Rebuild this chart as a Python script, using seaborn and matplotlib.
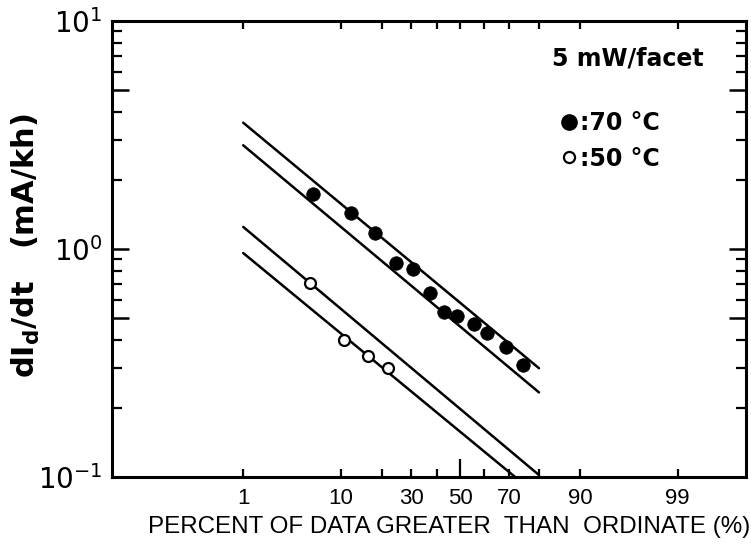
import numpy as np
import pandas as pd
import matplotlib
matplotlib.use("Agg")
import matplotlib.pyplot as plt
import seaborn as sns
from statistics import NormalDist
from matplotlib.lines import Line2D
from matplotlib.ticker import FixedLocator, FixedFormatter, NullFormatter

# ---------------- data ----------------
pct_70C = [5.7, 12.1, 18.1, 24.5, 30.5, 37.3, 43.2, 48.4, 55.7, 61.3, 68.8, 74.8]
rate_70C = [1.75, 1.44, 1.17, 0.87, 0.82, 0.64, 0.53, 0.51, 0.47, 0.43, 0.37, 0.31]
pct_50C = [5.3, 10.6, 16.0, 22.0]
rate_50C = [0.71, 0.40, 0.34, 0.30]

fit_pct = [1, 80]
fit_70C_upper = [3.58, 0.30]
fit_70C_lower = [2.85, 0.235]
fit_50C_upper = [1.25, 0.102]
fit_50C_lower = [0.96, 0.082]

x_major_ticks = [1, 10, 30, 50, 70, 90, 99]
x_major_labels = ["1", "10", "30", "50", "70", "90", "99"]
x_minor_ticks = [20, 40, 60, 80]
y_long_ticks = [0.1, 0.5, 1, 5, 10]
y_long_labels = [r"$\mathregular{10^{-1}}$", "", r"$\mathregular{10^{0}}$", "", r"$\mathregular{10^{1}}$"]
y_short_ticks = [0.2, 0.3, 0.4, 0.6, 0.7, 0.8, 0.9, 2, 3, 4, 6, 7, 8, 9]

x_title = "PERCENT OF DATA GREATER  THAN  ORDINATE (%)"
y_title = r"dI$_{\mathregular{d}}$/dt   (mA/kh)"
legend_labels = [":70 °C", ":50 °C"]
condition_text = "5 mW/facet"

# ---------------- probability (normal quantile) scale ----------------
_nd = NormalDist()


def pct_to_z(p):
    p = np.clip(np.asarray(p, dtype=float), 1e-7, 100 - 1e-7)
    return np.vectorize(lambda v: _nd.inv_cdf(v / 100.0), otypes=[float])(p)


def z_to_pct(z):
    z = np.asarray(z, dtype=float)
    return np.vectorize(lambda v: 100.0 * _nd.cdf(v), otypes=[float])(z)


sns.set_theme(style="ticks")
plt.rcParams["font.family"] = ["Liberation Sans", "DejaVu Sans"]
plt.rcParams["axes.linewidth"] = 2.2
plt.rcParams["axes.edgecolor"] = "black"
plt.rcParams["axes.labelcolor"] = "black"
plt.rcParams["xtick.color"] = "black"
plt.rcParams["ytick.color"] = "black"
plt.rcParams["xtick.labelcolor"] = "black"
plt.rcParams["ytick.labelcolor"] = "black"
plt.rcParams["text.color"] = "black"

fig = plt.figure(figsize=(7.51, 5.45), dpi=100)
ax = fig.add_axes([112 / 751, 1 - 477 / 545, 634 / 751, 456 / 545])
ax.set_facecolor("white")
ax.set_xscale("function", functions=(pct_to_z, z_to_pct))
ax.set_yscale("log")

for ys in [fit_70C_upper, fit_70C_lower, fit_50C_upper, fit_50C_lower]:
    sns.lineplot(x=fit_pct, y=ys, ax=ax, color="black", linewidth=1.8,
                 estimator=None, sort=False)

sns.scatterplot(x=pct_70C, y=rate_70C, ax=ax, color="black", s=95,
                edgecolor="black", linewidth=0.5, zorder=3)
sns.scatterplot(x=pct_50C, y=rate_50C, ax=ax, color="white", s=62,
                edgecolor="black", linewidth=1.6, zorder=3)

ax.set_xlim(0.0095, 99.889)
ax.set_ylim(0.1, 10)

ax.xaxis.set_major_locator(FixedLocator(x_major_ticks))
ax.xaxis.set_major_formatter(FixedFormatter(x_major_labels))
ax.xaxis.set_minor_locator(FixedLocator(x_minor_ticks))
ax.xaxis.set_minor_formatter(NullFormatter())
ax.yaxis.set_major_locator(FixedLocator(y_long_ticks))
ax.yaxis.set_major_formatter(FixedFormatter(y_long_labels))
ax.yaxis.set_minor_locator(FixedLocator(y_short_ticks))
ax.yaxis.set_minor_formatter(NullFormatter())

ax.tick_params(axis="x", which="both", direction="in", top=True, bottom=True,
               length=6, width=1.6, pad=8, labelsize=16)
ax.tick_params(axis="y", which="major", direction="in", left=True, right=True,
               length=12.5, width=1.8, pad=7, labelsize=20)
ax.tick_params(axis="y", which="minor", direction="in", left=True, right=True,
               length=7, width=1.6)
for lab in ax.get_yticklabels():
    lab.set_family(["DejaVu Sans"])

# longer tick at the median (50 %) on the bottom axis
xt = ax.xaxis.get_major_ticks()
xt[x_major_ticks.index(50)].tick1line.set_markersize(13)

ax.set_xlabel(x_title, fontsize=17.4)
ax.xaxis.set_label_coords(0.5315, -0.0855)
ax.set_ylabel(y_title, fontsize=22, fontweight="bold", family=["DejaVu Sans"])
ax.yaxis.set_label_coords(-0.11, 0.507)

handles = [
    Line2D([], [], ls="", marker="o", color="black", markersize=11),
    Line2D([], [], ls="", marker="o", mfc="white", mec="black", markersize=8, mew=1.6),
]
ax.legend(handles, legend_labels, loc="upper left", bbox_to_anchor=(0.708, 0.803),
          frameon=False, handlelength=0.7, handletextpad=0.1, labelspacing=0.5,
          borderpad=0, borderaxespad=0,
          prop={"family": "DejaVu Sans", "weight": "bold", "size": 17})

ax.text(0.814, 0.917, condition_text, transform=ax.transAxes, ha="center",
        va="center", fontsize=17, fontweight="bold", family=["DejaVu Sans"])

for s in ax.spines.values():
    s.set_visible(True)
    s.set_linewidth(2.2)
    s.set_color("black")

fig.savefig("out.png", dpi=100, facecolor="white")
